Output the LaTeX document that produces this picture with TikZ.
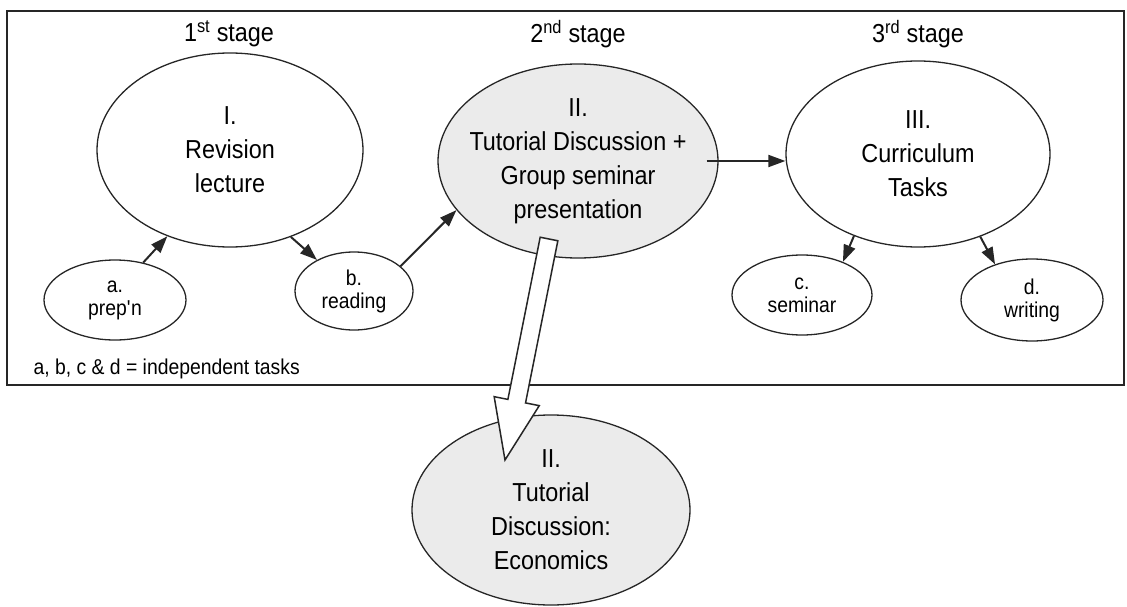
\documentclass[tikz,border=0pt]{standalone}
\usepackage{fontspec}
\setmainfont{Liberation Sans}[FakeStretch=0.9]
\usetikzlibrary{arrows.meta, positioning, shapes.geometric, calc}
\definecolor{shade}{gray}{0.92}

\begin{document}
\begin{tikzpicture}[
    x=1pt, y=-1pt,
    bigell/.style={draw=black!85, ellipse, line width=1.3pt, inner xsep=-30pt, inner ysep=0pt,
        align=center, font=\fontsize{26}{34}\selectfont},
    smallell/.style={draw=black!85, ellipse, line width=1.3pt, inner xsep=-30pt, inner ysep=0pt,
        align=center, font=\fontsize{21.5}{23}\selectfont},
    stagelbl/.style={anchor=base, font=\fontsize{26}{28}\selectfont},
    arr/.style={-{Triangle[length=17pt, width=12pt]}, line width=2pt, color=black!85},
]
    \useasboundingbox (0,0) rectangle (1127,607);
    \draw[line width=2pt, black!85] (7,11) rectangle (1124,385);

    \node[stagelbl] (st1) at (229,42) {1\textsuperscript{st} stage};
    \node[stagelbl] (st2) at (578,43) {2\textsuperscript{nd} stage};
    \node[stagelbl] (st3) at (918,43) {3\textsuperscript{rd} stage};

    \node[bigell, minimum width=266pt, minimum height=194pt] (rev) at (230,150) {I.\\Revision\\lecture};
    \node[bigell, fill=shade, minimum width=280pt, minimum height=194pt] (tut) at (578,161)
        {II.\\Tutorial Discussion +\\Group seminar\\presentation};
    \node[bigell, minimum width=264pt, minimum height=186pt] (cur) at (918,154) {III.\\Curriculum\\Tasks};

    \node[smallell, minimum width=142pt, minimum height=80pt] (prep) at (115,300) {a.\\prep\textquotesingle n};
    \node[smallell, minimum width=118pt, minimum height=78pt] (read) at (354,291) {b.\\reading};
    \node[smallell, minimum width=140pt, minimum height=80pt] (sem) at (802,295) {c.\\seminar};
    \node[smallell, minimum width=142pt, minimum height=82pt] (writ) at (1032,300) {d.\\writing};

    \node[anchor=base west, font=\fontsize{21.5}{23}\selectfont] (note) at (30,374)
        {a, b, c \& d = independent tasks};

    \node[bigell, fill=shade, minimum width=278pt, minimum height=190pt] (econ) at (551,510)
        {II.\\Tutorial\\Discussion:\\Economics};

    \draw[arr] (prep.53) -- (rev.-126);
    \draw[arr] (rev.-55) -- (read.140);
    \draw[arr] (read.28) -- (tut.202);
    \draw[arr] ([xshift=-12pt]tut.east) -- (tut.east -| cur.west);
    \draw[arr] (cur.-128) -- (sem.39);
    \draw[arr] (cur.-53) -- (writ.136);

    \coordinate (tail) at (549,239);
    \coordinate (tip) at (505,460);
    \coordinate (neck) at ($(tip)!60pt!(tail)$);
    \draw[fill=white, draw=black!85, line width=1.5pt]
        ($(tail)!9pt!90:(tip)$) -- ($(neck)!9pt!-90:(tail)$) -- ($(neck)!23pt!-90:(tail)$) -- (tip)
        -- ($(neck)!23pt!90:(tail)$) -- ($(neck)!9pt!90:(tail)$) -- ($(tail)!9pt!-90:(tip)$) -- cycle;
\end{tikzpicture}
\end{document}
